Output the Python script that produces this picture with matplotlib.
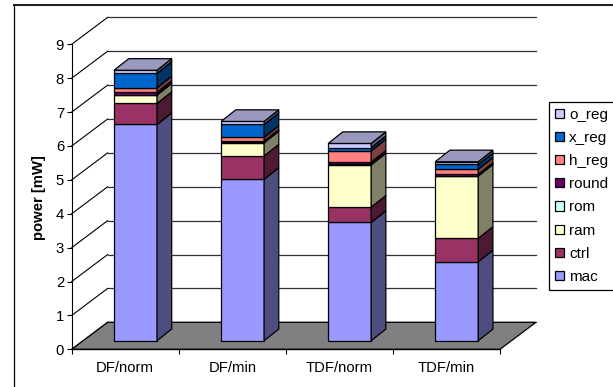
import matplotlib
matplotlib.use('Agg')
import matplotlib.pyplot as plt
from matplotlib.lines import Line2D
from matplotlib.patches import Patch
import numpy as np

LARGURA, ALTURA = 613, 387

categorias = ['DF/norm', 'DF/min', 'TDF/norm', 'TDF/min']
series = ['mac', 'ctrl', 'ram', 'rom', 'round', 'h_reg', 'x_reg', 'o_reg']
cores = ['#9999FF', '#993366', '#FFFFCC', '#CCFFFF', '#660066', '#FF8080', '#0066CC', '#CCCCFF']

mac = [6.38, 4.76, 3.49, 2.33]
ctrl = [0.62, 0.69, 0.45, 0.69]
ram = [0.25, 0.39, 1.25, 1.84]
rom = [0.01, 0.01, 0.01, 0.01]
round_ = [0.07, 0.04, 0.07, 0.04]
h_reg = [0.13, 0.11, 0.33, 0.15]
x_reg = [0.43, 0.38, 0.10, 0.14]
o_reg = [0.09, 0.09, 0.12, 0.08]
valores = [mac, ctrl, ram, rom, round_, h_reg, x_reg, o_reg]

plt.rcParams['font.family'] = ['Liberation Sans', 'DejaVu Sans']
plt.rcParams['font.size'] = 10.7

fig = plt.figure(figsize=(LARGURA / 100, ALTURA / 100), dpi=100)

# Eixo principal: x em categorias, y em mW
x0, x1, y0, y9 = 71.7, 500.0, 349.3, 44.3
ax = fig.add_axes([x0 / LARGURA, 1 - y0 / ALTURA, (x1 - x0) / LARGURA, (y0 - y9) / ALTURA])
ax.set_xlim(0, 4)
ax.set_ylim(0, 9)
ax.patch.set_visible(False)

# Profundidade do gráfico e das barras, em unidades dos eixos
por_cat = (x1 - x0) / 4
por_mw = (y0 - y9) / 9
parede_dx, parede_dy = 36 / por_cat, 27 / por_mw
barra_dx, barra_dy = 14.7 / por_cat, 11.6 / por_mw
barra_esq, barra_larg = 42.3 / por_cat, 43 / por_cat
base = 8.6 / por_mw


def face(xs, ys, cor, z):
    ax.fill(xs, ys, facecolor=cor, edgecolor='black', linewidth=0.9, clip_on=False,
            zorder=z, joinstyle='miter')


def escurece(cor, fator):
    rgb = np.array(matplotlib.colors.to_rgb(cor))
    return tuple(rgb * fator)


# Grade na parede do fundo e na parede lateral
for v in range(0, 10):
    ax.plot([parede_dx, 4 + parede_dx], [v + parede_dy, v + parede_dy], color='#303030',
            lw=0.9, clip_on=False, zorder=1)
    ax.plot([0, parede_dx], [v, v + parede_dy], color='black', lw=0.8, clip_on=False, zorder=1)

# Piso
face([0, 4, 4 + parede_dx, parede_dx], [0, 0, parede_dy, parede_dy], '#808080', 2)

# Barras empilhadas
for i in range(len(categorias)):
    esq = i + barra_esq
    dir_ = esq + barra_larg
    acumulado = base
    z = 3 + i
    for serie, cor in zip(valores, cores):
        topo = acumulado + serie[i]
        face([esq, dir_, dir_, esq], [acumulado, acumulado, topo, topo], cor, z)
        face([dir_, dir_ + barra_dx, dir_ + barra_dx, dir_],
             [acumulado, acumulado + barra_dy, topo + barra_dy, topo], escurece(cor, 0.5), z)
        acumulado = topo
    face([esq, dir_, dir_ + barra_dx, esq + barra_dx],
         [acumulado, acumulado, acumulado + barra_dy, acumulado + barra_dy],
         escurece(cores[-1], 0.75), z)

# Eixos
for lado in ['top', 'right']:
    ax.spines[lado].set_visible(False)
ax.spines['left'].set_linewidth(0.8)
ax.spines['bottom'].set_linewidth(1.0)
ax.spines['bottom'].set_zorder(10)
ax.set_yticks(range(0, 10))
ax.set_xticks(range(0, 5))
ax.set_xticklabels([])
ax.set_xticks(np.arange(4) + 0.5, categorias, minor=True)
ax.tick_params(axis='x', which='major', length=3.5, width=0.8)
ax.tick_params(axis='x', which='minor', length=0, pad=8.5)
ax.tick_params(axis='y', length=3.5, width=0.8, pad=2)
ax.set_ylabel('power [mW]', fontweight='bold', fontsize=10.7)
ax.yaxis.set_label_coords((46 - x0) / (x1 - x0), (y0 - 198) / (y0 - y9))

# Legenda na ordem inversa das séries
handles = [Patch(facecolor=c, edgecolor='black', linewidth=0.9, label=s)
           for s, c in zip(series, cores)][::-1]
leg = ax.legend(handles=handles, loc='lower left',
                bbox_to_anchor=(549.3 / LARGURA, 1 - 290 / ALTURA), bbox_transform=fig.transFigure,
                frameon=True, fancybox=False, framealpha=1, edgecolor='black',
                handlelength=0.55, handleheight=0.55, handletextpad=0.35,
                labelspacing=0.6, borderpad=0.4, borderaxespad=0, fontsize=11)
leg.get_frame().set_linewidth(0.9)
leg.set_zorder(20)

# Moldura: só as linhas superior e esquerda
fig.add_artist(Line2D([13.5 / LARGURA, 1], [1 - 5 / ALTURA, 1 - 5 / ALTURA], color='#202020', lw=1.5))
fig.add_artist(Line2D([13.5 / LARGURA, 13.5 / LARGURA], [1 - 5 / ALTURA, 0], color='black', lw=0.9))

fig.savefig('out.png', dpi=100)
